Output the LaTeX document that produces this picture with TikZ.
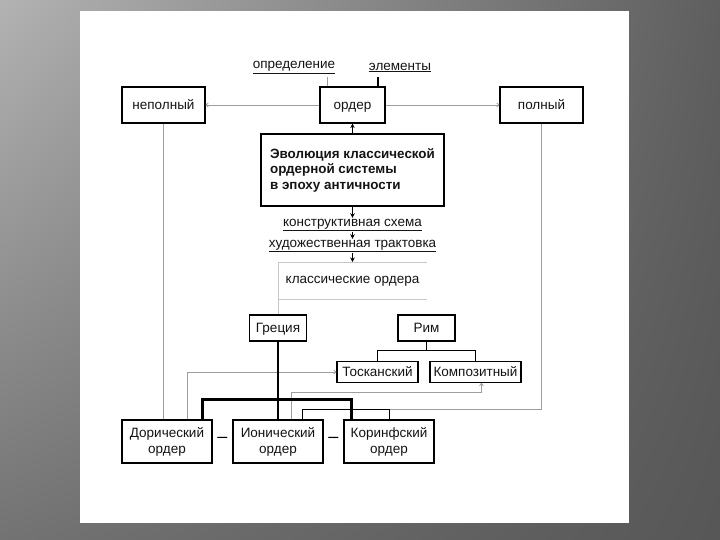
\documentclass[tikz,border=0pt]{standalone}
\usepackage{fontspec}
\setmainfont{Liberation Sans}
\usetikzlibrary{arrows.meta,shadings}
\begin{document}
\begin{tikzpicture}[x=1pt,y=-1pt,
  lbl/.style={font=\fontsize{13.5}{16}\selectfont, text=black!92, inner sep=1pt},
  box/.style={lbl, draw=black, line width=1.1pt, fill=white, inner sep=0pt, align=center},
  onebox/.style={box, text height=2ex, text depth=0.3ex},
  mainbox/.style={box, line width=2.8pt, font=\bfseries\fontsize{13.4}{15.5}\selectfont, align=left},
  gline/.style={draw=black!38, line width=0.8pt},
  glight/.style={draw=black!22, line width=0.8pt},
  garrow/.style={gline, -{To[length=3pt,width=4.5pt]}},
  bline/.style={draw=black, line width=1.1pt},
  tline/.style={draw=black, line width=2.2pt},
  barrow/.style={draw=black, line width=1pt, -{Stealth[length=4.5pt,width=4.5pt]}},
  dashsign/.style={font=\fontsize{18}{18}\selectfont, inner sep=0pt}
]
\useasboundingbox (0,0) rectangle (720,540);
\shade[upper left=black!30, upper right=black!63, lower left=black!55, lower right=black!66] (0,0) rectangle (720,540);
\fill[white] (80,11) rectangle (629,523);

% top row
\node[onebox, minimum width=83pt, minimum height=36pt] (nepoln) at (163.5,105) {неполный};
\node[onebox, minimum width=65pt, minimum height=36pt] (order) at (352.5,105) {ордер};
\node[onebox, minimum width=83pt, minimum height=36pt] (poln) at (541.5,105) {полный};
\node[lbl] (opred) at (294,67.5) {\underline{определение}};
\node[lbl] (elem) at (400,67.5) {\underline{элементы}};
\coordinate (t1) at (327,77);
\coordinate (t2) at (378,77);
\draw[gline] (t1) -- (t1 |- order.north);
\draw[bline, line width=1.6pt] (t2) -- (t2 |- order.north);
\draw[garrow] (order.west) -- (nepoln.east);
\draw[garrow] (order.east) -- (poln.west);

% main box
\node[mainbox, minimum width=183pt, minimum height=72pt] (main) at (352.5,170)
  {Эволюция классической\\ордерной системы\\в эпоху античности};
\draw[barrow] (main.north) -- (order.south);

% chain down
\node[lbl] (konstr) at (352.5,225) {\underline{конструктивная схема}};
\node[lbl] (hudoj) at (352.5,246) {\underline{художественная трактовка}};
\node[lbl] (klass) at (352.5,281.5) {классические ордера};
\coordinate (ktop) at (352.5,262);
\draw[barrow] (main.south) -- (konstr.north);
\draw[barrow] (konstr.south) -- (hudoj.north);
\draw[barrow] (hudoj.south) -- (ktop);

% Greece / Rome
\node[onebox, minimum width=57pt, minimum height=26pt] (greece) at (278,328) {Греция};
\node[onebox, minimum width=57pt, minimum height=26pt] (rim) at (426.5,328) {Рим};
\coordinate (kl) at (278,262);
\draw[glight] (427,262) -- (kl) -- (greece.north);
\draw[glight] (278,299) -- (427,299);

\node[onebox, minimum width=81pt, minimum height=21pt] (tosk) at (377.5,372) {Тосканский};
\node[onebox, minimum width=91pt, minimum height=21pt] (komp) at (475.5,372) {Композитный};
\draw[bline] (rim.south) -- (rim.south |- 0,351);
\draw[bline] (tosk.north) -- ++(0,-10.5) -| (komp.north);

% bottom row
\node[box, minimum width=90pt, minimum height=43pt] (doric) at (167,441.5) {Дорический\\ордер};
\node[box, minimum width=90pt, minimum height=43pt] (ionic) at (278,441.5) {Ионический\\ордер};
\node[box, minimum width=90pt, minimum height=43pt] (corinth) at (389,441.5) {Коринфский\\ордер};
\node[dashsign] (d1) at (222.5,440) {–};
\node[dashsign] (d2) at (333.5,440) {–};

% gray connectors
\draw[gline] (nepoln.south) -- (nepoln.south |- doric.north);
\draw[garrow] ([xshift=66pt]doric.north west) |- (tosk.west);
\draw[garrow] ([xshift=59pt]ionic.north west) -- ++(0,-27) -| ([xshift=52pt]komp.south west);
\draw[gline] (poln.south) |- ([xshift=46pt,yshift=10pt]corinth.north west);

% black tree
\draw[tline] (greece.south) -- (ionic.north);
\draw[tline] ([xshift=81pt]doric.north west) -- ++(0,-20) -| ([xshift=8pt]corinth.north west);
\draw[bline] ([xshift=70pt]ionic.north west) -- ++(0,-10) -| ([xshift=46pt]corinth.north west);
\end{tikzpicture}
\end{document}
